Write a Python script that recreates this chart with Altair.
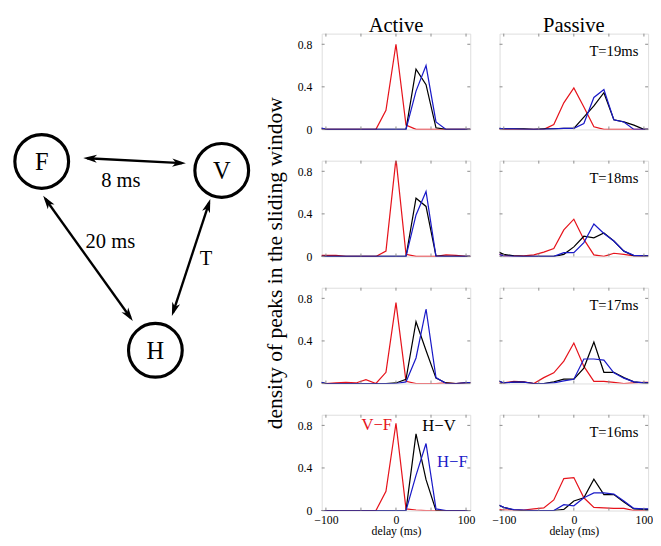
import math
import altair as alt
import pandas as pd

SERIF = "Liberation Serif"

# ---------------- data ----------------
delays = [-114.3, -100, -85.7, -71.4, -57.1, -42.9, -28.6, -14.3, 0,
          14.3, 28.6, 42.9, 57.1, 71.4, 85.7, 100, 114.3]

series_names = ["V\u2212F", "H\u2212V", "H\u2212F"]
series_colors = ["#e6141c", "#000000", "#1a1ac8"]
conditions = ["Active", "Passive"]
t_labels = ["T=19ms", "T=18ms", "T=17ms", "T=16ms"]
x_ticks = [-100, -50, 0, 50, 100]
y_ticks = [0, 0.4, 0.8]

# Active
act19_vf = [0, 0, 0, 0, 0, 0, 0, 0.18, 0.80, 0.04, 0, 0, 0, 0, 0, 0, 0]
act19_hv = [0.02, 0, 0, 0, 0, 0, 0, 0, 0, 0, 0.565, 0.42, 0.015, 0, 0, 0, 0]
act19_hf = [0.03, 0, 0, 0, 0, 0, 0, 0, 0, 0, 0.36, 0.60, 0.07, 0, 0, 0, 0]

act18_vf = [0.01, 0.01, 0.01, 0, 0, 0, 0, 0.05, 0.92, 0.02, 0, 0, 0, 0.015, 0.01, 0, 0]
act18_hv = [0, 0, 0, 0, 0, 0, 0, 0, 0, 0, 0.547, 0.47, 0.005, 0, 0, 0, 0]
act18_hf = [0, 0, 0, 0, 0, 0, 0, 0, 0, 0, 0.39, 0.61, 0, 0, 0, 0, 0]

act17_vf = [0, 0, 0.005, 0.01, 0.005, 0.035, 0, 0.105, 0.76, 0.02, 0, 0, 0, 0.005, 0, 0.005, 0.005]
act17_hv = [0.02, 0, 0, 0, 0, 0, 0, 0, 0.005, 0.04, 0.58, 0.31, 0.05, 0.005, 0, 0.005, 0.01]
act17_hf = [0.02, 0, 0, 0, 0, 0, 0, 0, 0, 0.015, 0.24, 0.70, 0.055, 0, 0, 0.005, 0.01]

act16_vf = [0, 0, 0, 0, 0, 0, 0, 0.18, 0.82, 0.015, 0.005, 0, 0, 0, 0, 0, 0]
act16_hv = [0, 0, 0, 0, 0, 0, 0, 0, 0, 0, 0.72, 0.29, 0, 0, 0, 0, 0]
act16_hf = [0, 0, 0, 0, 0, 0, 0, 0, 0, 0, 0.33, 0.63, 0.015, 0, 0, 0, 0]

# Passive
pas19_vf = [0, 0, 0, 0, 0, 0, 0.045, 0.25, 0.39, 0.21, 0.025, 0, 0, 0, 0, 0, 0]
pas19_hv = [0.015, 0.005, 0.005, 0.005, 0, 0.005, 0.005, 0.01, 0.01, 0.115, 0.22, 0.345, 0.09, 0.07, 0.04, 0, 0]
pas19_hf = [0.015, 0.005, 0.005, 0, 0, 0, 0.005, 0.01, 0.01, 0.055, 0.30, 0.375, 0.09, 0.07, 0, 0, 0]

pas18_vf = [0.035, 0.005, 0.005, 0.005, 0.015, 0.04, 0.075, 0.25, 0.35, 0.16, 0.015, 0, 0.03, 0.02, 0.005, 0.005, 0.005]
pas18_hv = [0.06, 0.02, 0.005, 0, 0, 0, 0, 0.02, 0.09, 0.19, 0.175, 0.22, 0.145, 0.05, 0.005, 0.005, 0.005]
pas18_hf = [0.035, 0.005, 0, 0, 0, 0, 0, 0.035, 0.035, 0.13, 0.305, 0.215, 0.145, 0.05, 0.01, 0.005, 0.005]

pas17_vf = [0, 0.005, 0.02, 0.015, 0, 0.055, 0.10, 0.21, 0.38, 0.16, 0.02, 0.02, 0.01, 0, 0.005, 0.01, 0.01]
pas17_hv = [0.04, 0.005, 0.012, 0.012, 0, 0, 0.015, 0.04, 0.04, 0.145, 0.39, 0.105, 0.105, 0.055, 0.015, 0.005, 0.005]
pas17_hf = [0.04, 0.005, 0.012, 0.012, 0, 0, 0.005, 0.025, 0.04, 0.23, 0.23, 0.22, 0.10, 0.05, 0.015, 0.005, 0.005]

pas16_vf = [0.015, 0.005, 0.005, 0.005, 0.015, 0.025, 0.10, 0.30, 0.31, 0.12, 0.03, 0.025, 0.02, 0.02, 0, 0, 0]
pas16_hv = [0.07, 0.03, 0.005, 0, 0, 0, 0, 0.01, 0.09, 0.12, 0.295, 0.15, 0.15, 0.08, 0.015, 0.01, 0.01]
pas16_hf = [0.075, 0.03, 0.008, 0.005, 0, 0, 0, 0.055, 0.045, 0.12, 0.165, 0.165, 0.155, 0.09, 0.02, 0.015, 0.015]

panels = {
    ("Active", "T=19ms"): [act19_vf, act19_hv, act19_hf],
    ("Active", "T=18ms"): [act18_vf, act18_hv, act18_hf],
    ("Active", "T=17ms"): [act17_vf, act17_hv, act17_hf],
    ("Active", "T=16ms"): [act16_vf, act16_hv, act16_hf],
    ("Passive", "T=19ms"): [pas19_vf, pas19_hv, pas19_hf],
    ("Passive", "T=18ms"): [pas18_vf, pas18_hv, pas18_hf],
    ("Passive", "T=17ms"): [pas17_vf, pas17_hv, pas17_hf],
    ("Passive", "T=16ms"): [pas16_vf, pas16_hv, pas16_hf],
}

# diagram data (layout units ~ pixels, y measured downward)
node_names = ["F", "V", "H"]
node_x = [29.5, 213.7, 145.8]
node_y = [130.8, 140.0, 324.0]

edge_x1 = [72.0, 31.0, 202.0]
edge_y1 = [127.3, 166.0, 169.3]
edge_x2 = [177.0, 122.7, 162.7]
edge_y2 = [132.7, 294.0, 289.0]
edge_labels = ["8 ms", "20 ms", "T"]
edge_label_x = [110.5, 99.7, 197.6]
edge_label_y = [150.5, 213.0, 231.0]

# ---------------- build tables ----------------
rows = []
for (cond, t), vals in panels.items():
    for s, v in zip(series_names, vals):
        for d, y in zip(delays, v):
            rows.append(dict(kind="line", cond=cond, T=t, series=s, delay=d, value=y, label=""))
    for xt in x_ticks:
        rows.append(dict(kind="xtick", cond=cond, T=t, series="", delay=xt, value=None, label=""))
    for yt in y_ticks:
        rows.append(dict(kind="ytick", cond=cond, T=t, series="", delay=None, value=yt, label=""))
for t in t_labels:
    rows.append(dict(kind="T", cond="Passive", T=t, series="", delay=None, value=None, label=t))
for s in series_names:
    rows.append(dict(kind="lab", cond="Active", T="T=16ms", series=s, delay=None, value=None, label=s))
for c in conditions:
    rows.append(dict(kind="head", cond=c, T=t_labels[0], series="", delay=None, value=None, label=c))
df = pd.DataFrame(rows)

color_scale = alt.Scale(domain=series_names, range=series_colors)
PW, PH = 152, 98
TICK = 3
FRAME = "#8a8a8a"

xscale = alt.Scale(domain=[-106, 106], nice=False, zero=False)
yscale = alt.Scale(domain=[0, 0.9], nice=False)

lines = alt.Chart().mark_line(strokeWidth=1.25, clip=True).encode(
    x=alt.X("delay:Q", scale=xscale,
            axis=alt.Axis(values=x_ticks, title="delay (ms)", grid=False,
                          ticks=False, domain=False, labelFont=SERIF, labelFontSize=12,
                          labelColor="black", labelPadding=3, titleFont=SERIF,
                          titleFontSize=12, titleFontWeight="normal", titleColor="black",
                          titlePadding=1)),
    y=alt.Y("value:Q", scale=yscale,
            axis=alt.Axis(values=y_ticks, format="~g", title=None, grid=False,
                          ticks=False, domain=False, labelFont=SERIF, labelFontSize=12,
                          labelColor="black", labelPadding=9)),
    color=alt.Color("series:N", scale=color_scale, legend=None),
).transform_filter("datum.kind == 'line'")

xt_bot = alt.Chart().mark_rule(color=FRAME, strokeWidth=1).encode(
    x=alt.X("delay:Q", scale=xscale), y=alt.value(PH), y2=alt.value(PH - TICK)
).transform_filter("datum.kind == 'xtick'")
xt_top = alt.Chart().mark_rule(color=FRAME, strokeWidth=1).encode(
    x=alt.X("delay:Q", scale=xscale), y=alt.value(0), y2=alt.value(TICK)
).transform_filter("datum.kind == 'xtick'")
yt_left = alt.Chart().mark_rule(color=FRAME, strokeWidth=1).encode(
    y=alt.Y("value:Q", scale=yscale), x=alt.value(0), x2=alt.value(TICK)
).transform_filter("datum.kind == 'ytick'")
yt_right = alt.Chart().mark_rule(color=FRAME, strokeWidth=1).encode(
    y=alt.Y("value:Q", scale=yscale), x=alt.value(PW), x2=alt.value(PW - TICK)
).transform_filter("datum.kind == 'ytick'")

t_text = alt.Chart().mark_text(align="right", baseline="middle", font=SERIF, fontSize=15,
                               color="black").encode(
    x=alt.value(PW - 10), y=alt.value(18), text="label:N"
).transform_filter("datum.kind == 'T'")

head_text = alt.Chart().mark_text(align="center", baseline="alphabetic", font=SERIF,
                                  fontSize=21, color="black").encode(
    x=alt.value(PW / 2), y=alt.value(-2), text="label:N"
).transform_filter("datum.kind == 'head'")

lab_vf = alt.Chart().mark_text(align="right", baseline="middle", font=SERIF, fontSize=17).encode(
    x=alt.value(72), y=alt.value(11), text="label:N",
    color=alt.Color("series:N", scale=color_scale, legend=None),
).transform_filter("datum.kind == 'lab' && datum.series == '" + series_names[0] + "'")
lab_hv = alt.Chart().mark_text(align="left", baseline="middle", font=SERIF, fontSize=17).encode(
    x=alt.value(103), y=alt.value(12), text="label:N",
    color=alt.Color("series:N", scale=color_scale, legend=None),
).transform_filter("datum.kind == 'lab' && datum.series == '" + series_names[1] + "'")
lab_hf = alt.Chart().mark_text(align="left", baseline="middle", font=SERIF, fontSize=17).encode(
    x=alt.value(118), y=alt.value(48), text="label:N",
    color=alt.Color("series:N", scale=color_scale, legend=None),
).transform_filter("datum.kind == 'lab' && datum.series == '" + series_names[2] + "'")

grid = alt.layer(lines, xt_bot, xt_top, yt_left, yt_right, t_text, head_text,
                 lab_vf, lab_hv, lab_hf, data=df).properties(
    width=PW, height=PH
).facet(
    row=alt.Row("T:N", sort=t_labels, title="density of peaks in the sliding window",
                header=alt.Header(labels=False, titleFont=SERIF, titleFontSize=22,
                                  titleFontWeight="normal", titleColor="black",
                                  titlePadding=1)),
    column=alt.Column("cond:N", sort=conditions, title=None,
                      header=alt.Header(labels=False)),
    spacing={"row": 30, "column": 28},
)

# ---------------- diagram ----------------
DW, DH = 248, 380
xs = alt.Scale(domain=[0, DW], nice=False, zero=False)
ys = alt.Scale(domain=[DH, 0], nice=False, zero=False)

nodes_df = pd.DataFrame(dict(name=node_names, x=node_x, y=node_y))
edges_df = pd.DataFrame(dict(x1=edge_x1, y1=edge_y1, x2=edge_x2, y2=edge_y2))
elab_df = pd.DataFrame(dict(label=edge_labels, x=edge_label_x, y=edge_label_y))

HEAD = 14.0
shaft_rows, head_rows = [], []
for _, e in edges_df.iterrows():
    dx, dy = e.x2 - e.x1, e.y2 - e.y1
    L = math.hypot(dx, dy)
    ux, uy = dx / L, dy / L
    shaft_rows.append(dict(x1=e.x1 + ux * 4, y1=e.y1 + uy * 4, x2=e.x2 - ux * 4, y2=e.y2 - uy * 4))
    for tx, ty, px, py in [(e.x1, e.y1, -ux, -uy), (e.x2, e.y2, ux, uy)]:
        ang = math.degrees(math.atan2(px, -py)) % 360
        head_rows.append(dict(x=tx - px * HEAD / 2, y=ty - py * HEAD / 2, angle=ang))
shaft_df = pd.DataFrame(shaft_rows)
head_df = pd.DataFrame(head_rows)

shafts = alt.Chart(shaft_df).mark_rule(strokeWidth=2.4, color="black").encode(
    x=alt.X("x1:Q", scale=xs, axis=None), y=alt.Y("y1:Q", scale=ys, axis=None),
    x2="x2:Q", y2="y2:Q")
heads = alt.Chart(head_df).mark_point(
    shape="M0,-1L0.6,1L0,0.45L-0.6,1Z", filled=True, color="black", opacity=1,
    size=HEAD * HEAD).encode(
    x=alt.X("x:Q", scale=xs, axis=None), y=alt.Y("y:Q", scale=ys, axis=None),
    angle=alt.Angle("angle:Q", scale=None))
circles = alt.Chart(nodes_df).mark_point(
    shape="circle", size=3025, filled=False, stroke="black", strokeWidth=3.2,
    fill="white", fillOpacity=1, opacity=1).encode(
    x=alt.X("x:Q", scale=xs, axis=None), y=alt.Y("y:Q", scale=ys, axis=None))
node_text = alt.Chart(nodes_df).mark_text(font=SERIF, fontSize=25, color="black",
                                          baseline="middle", dy=1).encode(
    x=alt.X("x:Q", scale=xs, axis=None), y=alt.Y("y:Q", scale=ys, axis=None), text="name:N")
edge_text = alt.Chart(elab_df).mark_text(font=SERIF, fontSize=21, color="black",
                                         baseline="middle").encode(
    x=alt.X("x:Q", scale=xs, axis=None), y=alt.Y("y:Q", scale=ys, axis=None), text="label:N")

diagram = alt.layer(shafts, heads, circles, node_text, edge_text).properties(
    width=DW, height=DH, view=alt.ViewBackground(strokeOpacity=0))

chart = alt.hconcat(diagram, grid, spacing=8).properties(padding=0).configure_view(
    stroke=FRAME, strokeWidth=1
).configure(font=SERIF)

chart.save("out.html", embed_options={"renderer": "svg", "actions": False})
